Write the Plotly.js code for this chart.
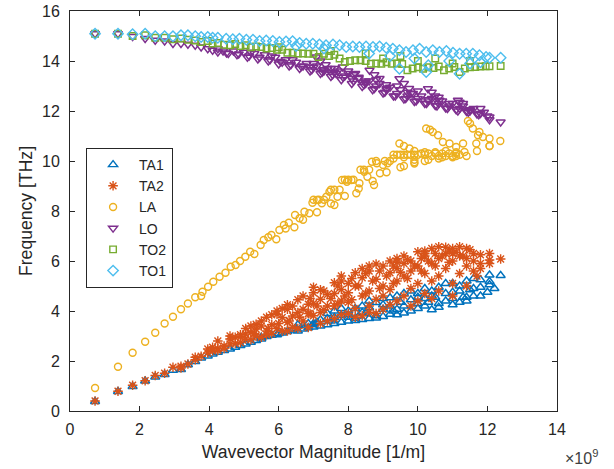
<!DOCTYPE html>
<html>
<head>
<meta charset="utf-8">
<script src="https://cdn.plot.ly/plotly-3.0.1.min.js"></script>
<style>html,body{margin:0;padding:0;background:#fff;}#chart{width:614px;height:469px;}</style>
</head>
<body>
<div id="chart"></div>
<script>
// Wavevector magnitude in units of 1e9 1/m, frequency in THz
const ta1K = [0.72,1.38,1.8,2.16,2.45,2.72,2.96,3.19,3.39,3.6,3.77,3.96,4.1,4.25,4.43,4.6,4.75,4.9,5.05,5.2,5.35,5.5,5.65,5.8,5.95,6.1,6.25,6.4,6.55,6.55,6.7,6.7,6.85,6.85,7.0,7.0,7.2,7.2,7.4,7.4,7.4,7.6,7.6,7.6,7.8,7.8,7.8,8.0,8.0,8.0,8.2,8.2,8.2,8.4,8.4,8.4,8.6,8.6,8.6,8.8,8.8,8.8,9.0,9.0,9.0,9.2,9.2,9.2,9.4,9.4,9.4,9.6,9.6,9.6,9.8,9.8,9.8,10.0,10.0,10.0,10.2,10.2,10.2,10.4,10.4,10.4,10.6,10.6,10.6,10.8,10.8,10.8,11.0,11.0,11.0,11.2,11.2,11.2,11.4,11.4,11.4,11.6,11.6,11.6,11.8,11.8,11.8,12.06,12.06,12.06,12.38,
  5.5,6.0,6.5,7.0,7.5,8.0,8.5,9.0,9.5,10.0,10.5,11.0,11.5,12.0,7.1,8.3,9.3,10.3,11.3,12.2];
const ta1F = [0.38,0.78,0.98,1.2,1.36,1.46,1.63,1.66,1.85,1.98,2.12,2.2,2.28,2.35,2.42,2.48,2.55,2.62,2.68,2.75,2.82,2.88,2.98,3.03,3.05,3.12,3.18,3.24,3.2,3.45,3.42,3.28,3.5,3.33,3.5,3.36,3.65,3.4,3.7,3.45,3.9,3.74,3.5,4.0,3.83,3.55,4.1,4.0,3.6,3.75,3.7,4.1,3.62,3.94,4.2,3.66,4.14,3.7,4.4,4.34,3.81,3.72,4.07,4.5,3.78,4.53,3.87,4.2,4.07,4.6,3.85,4.7,4.2,3.92,4.45,4.0,4.8,4.7,4.1,4.3,4.9,4.2,4.5,4.6,4.05,4.8,4.95,4.3,4.15,5.1,4.4,4.7,5.1,4.5,4.25,4.8,4.35,5.0,5.2,4.55,4.4,4.9,4.6,5.3,5.25,4.6,4.95,5.44,5.18,5.05,5.42,
  2.95,3.1,3.3,3.45,3.6,3.85,3.9,4.25,4.35,4.55,4.55,4.75,4.85,4.75,3.55,3.8,4.0,4.35,4.55,4.9];

const ta2K = [0.72,1.38,1.8,2.16,2.45,2.72,2.96,3.19,3.19,3.39,3.6,3.6,3.77,3.96,3.96,4.1,4.1,4.25,4.25,4.25,4.43,4.43,4.6,4.6,4.6,4.75,4.75,4.9,4.9,4.9,5.05,5.05,5.05,5.2,5.2,5.2,5.35,5.35,5.35,5.5,5.5,5.5,5.65,5.65,5.65,5.8,5.8,5.8,5.95,5.95,5.95,6.1,6.1,6.1,6.25,6.25,6.25,6.25,6.4,6.4,6.4,6.55,6.55,6.55,6.7,6.7,6.7,6.85,6.85,6.85,7.0,7.0,7.0,7.2,7.2,7.2,7.2,7.4,7.4,7.4,7.6,7.6,7.6,7.6,7.8,7.8,7.8,7.8,8.0,8.0,8.0,8.0,8.2,8.2,8.2,8.2,8.4,8.4,8.4,8.4,8.6,8.6,8.6,8.6,8.8,8.8,8.8,8.8,9.0,9.0,9.0,9.0,9.2,9.2,9.2,9.2,9.4,9.4,9.4,9.4,9.6,9.6,9.6,9.6,9.8,9.8,9.8,9.8,10.0,10.0,10.0,10.0,10.2,10.2,10.2,10.2,10.4,10.4,10.4,10.4,10.6,10.6,10.6,10.6,10.8,10.8,10.8,11.0,11.0,11.0,11.0,11.2,11.2,11.2,11.4,11.4,11.4,11.4,11.6,11.6,11.6,11.8,11.8,11.8,12.06,12.06,12.06,12.38,
  5.3,5.7,6.0,6.3,6.6,6.9,7.3,7.7,8.1,8.5,8.9,9.3,9.7,10.1,10.5,10.9,11.3,11.7,6.9,7.3,7.7,8.1,8.5,8.9,9.3,9.7,10.1,10.5,10.9,
  7.1,7.5,7.9,8.3,8.7,9.1,9.5,9.9,10.3,10.7,11.1,11.5,7.0,7.8,8.6,9.4,10.2,11.0];
const ta2F = [0.4,0.79,1.03,1.21,1.42,1.51,1.75,1.79,1.72,1.88,2.15,2.05,2.19,2.32,2.48,2.41,2.55,2.5,2.8,2.42,2.6,2.5,2.68,2.88,3.0,2.95,2.7,2.74,2.97,3.05,3.08,2.88,3.3,3.14,2.85,3.4,3.47,3.28,3.0,2.95,3.4,3.6,3.2,3.75,3.05,3.45,3.85,3.1,3.87,3.3,4.0,3.74,3.2,4.1,3.2,4.07,3.55,4.25,4.2,3.35,3.8,3.94,4.45,3.3,4.07,3.6,4.6,3.34,4.27,3.9,4.73,3.81,4.3,3.94,4.47,3.5,4.85,3.6,4.66,4.2,5.13,4.2,3.7,4.7,4.4,4.86,3.85,5.2,4.73,3.9,5.1,4.35,5.53,5.0,4.1,3.75,5.33,3.81,4.6,5.7,4.8,5.8,4.2,3.95,5.27,4.47,5.88,3.9,5.8,4.07,5.0,4.6,5.53,4.86,6.0,4.25,6.1,5.2,4.4,5.7,5.9,4.6,6.2,5.4,6.0,4.9,5.6,4.2,6.37,5.8,5.1,4.4,6.2,5.5,4.7,6.4,6.5,5.9,5.2,4.5,6.57,6.1,5.4,4.8,6.3,6.55,5.7,6.5,6.0,4.6,5.1,6.57,6.2,5.5,6.5,6.1,5.8,5.0,6.3,6.0,5.6,6.25,5.9,5.7,6.04,6.3,5.9,6.08,
  3.1,3.3,3.5,3.6,3.75,3.9,4.05,4.3,4.45,4.7,4.9,5.1,5.3,5.6,5.8,5.95,6.2,5.4,4.5,4.8,5.0,5.3,5.5,5.6,5.8,6.05,6.1,6.3,6.4,
  4.2,4.5,4.6,5.0,5.2,5.4,5.55,5.8,6.0,6.2,6.35,6.45,4.95,5.4,5.6,5.95,6.3,6.3];

const laK = [0.72,1.38,1.8,2.16,2.45,2.72,2.96,3.19,3.39,3.6,3.77,3.81,3.97,4.12,4.3,4.47,4.62,4.76,4.89,5.04,5.18,5.3,5.48,5.57,5.7,5.79,5.93,6.02,6.15,6.29,6.45,6.47,6.6,6.74,6.88,6.97,7.1,7.24,7.37,7.46,7.6,7.69,7.82,7.96,8.09,8.23,8.32,8.46,8.55,8.68,8.82,8.91,9.0,9.13,8.74,7.0,7.15,7.3,7.5,7.6,7.75,7.9,8.0,8.15,8.35,8.45,8.6,8.8,9.05,9.2,9.3,9.4,9.5,9.6,9.7,9.8,9.9,10.0,10.1,10.2,10.3,10.4,10.5,10.6,10.7,10.8,10.9,11.0,11.1,11.2,9.6,9.9,10.2,10.6,11.0,11.4,11.7,12.06,9.47,9.6,9.76,9.9,10.24,10.35,10.43,10.58,10.72,10.91,11.1,11.3,11.34,11.68,11.73,11.58,11.44,11.5,11.77,11.87,12.06,12.06,12.37,
  6.2,6.7,7.1,7.5,7.9,8.3,8.7,9.1,9.5,9.9,10.3,10.7,11.1,9.3,9.6,9.9,10.2,10.5,10.8,11.1];
const laF = [0.92,1.77,2.33,2.77,3.13,3.5,3.77,4.07,4.3,4.55,4.6,4.77,4.97,5.17,5.37,5.53,5.77,5.84,6.0,6.17,6.37,6.28,6.64,6.84,6.95,7.04,6.87,7.24,7.44,7.53,7.35,7.84,7.71,7.97,7.91,8.33,8.44,8.31,8.57,8.77,8.24,8.57,9.24,9.17,9.24,8.71,9.11,9.57,9.37,9.97,9.91,9.51,9.84,9.91,9.04,8.45,8.45,8.45,8.85,8.85,8.85,9.25,9.25,9.25,9.65,9.65,9.65,10.0,10.0,10.0,10.25,10.25,10.25,10.25,10.25,10.25,10.25,10.25,10.3,10.25,10.3,10.2,10.3,10.2,10.3,10.2,10.3,10.2,10.3,10.25,9.8,9.9,10.0,10.1,10.15,10.2,10.4,10.6,10.7,10.6,10.5,10.4,11.3,11.25,11.16,11.03,10.76,10.7,10.56,10.7,10.36,10.7,11.03,11.3,11.6,11.5,11.16,10.96,10.9,10.6,10.8,
  7.3,7.65,7.95,8.3,8.6,8.9,9.2,9.55,9.75,9.95,10.05,10.15,10.2,10.1,10.15,10.05,10.35,10.35,10.4,10.35];

const loK = [0.72,1.38,1.8,2.16,2.45,2.72,2.96,3.19,3.39,3.6,3.77,3.96,4.1,4.25,4.25,4.4,4.55,4.7,4.85,5.0,5.15,5.3,5.45,5.6,5.75,5.9,6.05,6.2,6.35,6.5,6.65,6.8,6.95,7.1,7.25,7.4,7.55,7.7,7.85,8.0,8.15,8.3,8.45,8.6,8.75,8.9,9.05,9.2,9.35,9.5,9.65,9.8,9.95,10.1,10.25,10.4,10.55,10.7,10.85,11.0,11.15,11.3,11.45,11.6,11.75,11.9,12.06,12.06,12.38,7.0,7.3,7.6,8.1,8.5,8.8,9.1,9.4,9.7,10.0,10.3,10.6,10.9,11.2,11.5,11.8,7.08,7.2,7.35,7.5,7.65,7.84,8.0,8.15,8.3,8.5,8.61,8.75,8.9,9.09,9.47,9.6,9.75,9.86,10.29,10.4,10.5,10.62,11.15,11.3,11.49,
  4.5,4.8,5.1,5.4,5.7,6.0,6.3,6.6,6.9,7.2,7.5,7.8,8.1,8.4,8.7,9.0,9.3,9.6,9.9,10.2,10.5,10.8,11.1,11.4,11.7,12.0,5.2,5.8,6.4,7.0,7.6,8.2,8.8,9.4,10.0,10.6,11.2,11.8,
  6.1,6.7,7.3,7.9,8.5,9.1,9.7,10.3,10.9,11.5];
const loF = [15.09,15.09,14.98,14.9,14.83,14.8,14.7,14.7,14.67,14.63,14.56,14.49,14.43,14.49,14.36,14.4,14.3,14.4,14.28,14.35,14.2,14.3,14.15,14.25,14.05,14.15,13.98,14.05,13.85,13.95,13.78,13.9,13.65,13.8,13.55,13.7,13.45,13.6,13.35,13.5,13.2,13.35,13.05,13.2,12.9,13.1,12.75,12.95,12.6,12.85,12.5,12.7,12.4,12.6,12.3,12.5,12.2,12.4,12.1,12.3,12.0,12.2,11.95,12.1,11.85,11.95,11.76,11.65,11.56,13.75,13.6,13.55,13.3,13.15,13.0,12.85,12.7,12.6,12.5,12.4,12.3,12.2,12.1,12.0,11.9,14.16,14.0,13.85,13.7,13.5,13.76,13.6,13.45,13.3,13.1,13.63,13.45,13.3,13.05,13.29,13.1,12.9,12.7,12.89,12.75,12.6,12.43,12.43,12.3,12.03,
  14.32,14.25,14.15,14.08,14.0,13.88,13.8,13.7,13.6,13.5,13.38,13.25,13.1,12.98,12.85,12.72,12.6,12.48,12.38,12.3,12.22,12.12,12.05,11.98,11.88,11.8,14.35,14.2,14.05,13.9,13.7,13.5,13.25,13.0,12.8,12.55,12.35,12.1,
  13.95,13.8,13.65,13.4,13.2,12.9,12.75,12.45,12.3,12.05];

const to2K = [0.72,1.38,1.8,2.16,2.45,2.72,2.96,3.19,3.39,3.6,3.77,3.96,4.1,4.25,4.43,4.6,4.75,4.9,5.05,5.2,5.35,5.5,5.65,5.8,5.95,6.1,6.25,6.4,6.55,6.7,6.85,7.0,7.15,7.3,7.45,7.6,7.75,7.9,8.05,8.2,8.35,8.5,8.65,8.8,8.95,9.1,9.25,9.4,9.55,9.7,9.85,10.0,10.15,10.3,10.45,10.6,10.75,10.9,11.05,11.2,11.35,11.5,11.65,11.8,11.95,12.06,12.38,7.5,8.5,9.5,10.5,11.5,6.0,9.0,10.0,11.0];
const to2F = [15.09,15.09,15.0,15.03,14.93,14.93,14.87,14.9,14.85,14.82,14.76,14.8,14.7,14.72,14.65,14.63,14.68,14.6,14.63,14.55,14.58,14.56,14.5,14.52,14.45,14.45,14.33,14.33,14.3,14.3,14.29,14.29,14.16,14.29,14.2,14.25,14.1,13.96,14.0,14.03,14.03,14.0,13.89,13.9,13.89,13.95,13.89,13.9,13.88,13.63,13.7,13.75,13.69,13.75,13.72,13.78,13.63,13.7,13.76,13.56,13.7,13.75,13.76,13.78,13.79,13.79,13.8,14.4,14.3,14.2,14.1,14.0,14.55,14.1,14.0,13.9];

const to1K = [0.72,1.38,1.8,2.16,2.45,2.72,2.96,3.19,3.39,3.6,3.77,3.96,4.1,4.25,4.49,4.68,4.87,5.07,5.26,5.45,5.64,5.83,6.02,6.21,6.4,6.6,6.79,6.98,7.17,7.36,7.56,7.75,7.94,8.13,8.32,8.51,8.71,8.9,9.09,9.28,9.47,9.66,9.86,10.05,10.24,10.43,10.62,10.82,11.01,11.2,11.39,11.58,11.77,11.96,12.06,12.38,9.47,10.24,11.2,10.3,9.9,10.9,11.5,8.6,9.2,7.3,6.5,11.8];
const to1F = [15.09,15.09,15.07,15.09,14.99,14.99,14.99,15.03,15.03,14.99,14.96,14.96,14.93,14.93,14.89,14.87,14.89,14.85,14.85,14.8,14.82,14.8,14.76,14.78,14.79,14.72,14.69,14.69,14.66,14.63,14.66,14.63,14.56,14.58,14.56,14.58,14.56,14.58,14.53,14.49,14.43,14.36,14.43,14.49,14.36,14.43,14.36,14.4,14.33,14.29,14.29,14.29,14.23,14.16,14.13,14.13,13.69,13.56,13.49,13.83,14.1,14.0,13.9,14.3,14.2,14.5,14.6,13.95];

const seriesNames = ['TA1','TA2','LA','LO','TO2','TO1'];
const seriesColors = ['#0072BD','#D95319','#EDB120','#7E2F8E','#77AC30','#4DBEEE'];
const seriesSymbols = ['triangle-up-open','asterisk-open','circle-open','triangle-down-open','square-open','diamond-open'];
const seriesSizes = [8,8,7,8,6.5,8];
const xTickVals = [0,2,4,6,8,10,12,14];
const yTickVals = [0,2,4,6,8,10,12,14,16];

const kData = [ta1K, ta2K, laK, loK, to2K, to1K];
const fData = [ta1F, ta2F, laF, loF, to2F, to1F];

const SCALE = 1e9;
const traces = seriesNames.map((name, i) => ({
  type: 'scatter',
  mode: 'markers',
  name: name,
  x: kData[i].map(v => v * SCALE),
  y: fData[i],
  marker: {
    symbol: seriesSymbols[i],
    size: seriesSizes[i],
    color: seriesColors[i],
    line: {color: seriesColors[i], width: 1.4}
  }
}));

const axisCommon = {
  showline: true, linecolor: '#262626', linewidth: 1,
  mirror: 'ticks', ticks: 'inside', ticklen: 5, tickwidth: 1, tickcolor: '#262626',
  showgrid: false, zeroline: false,
  tickfont: {family: 'Liberation Sans, Arial, sans-serif', size: 16, color: '#262626'}
};

const layout = {
  width: 614, height: 469,
  margin: {l: 70, r: 57, t: 11, b: 58},
  paper_bgcolor: '#ffffff', plot_bgcolor: '#ffffff',
  font: {family: 'Liberation Sans, Arial, sans-serif', color: '#262626'},
  showlegend: true,
  xaxis: Object.assign({}, axisCommon, {
    range: [0, 14 * SCALE],
    tickvals: xTickVals.map(v => v * SCALE),
    ticktext: xTickVals.map(v => String(v)),
    ticklabelstandoff: 4,
    title: {text: 'Wavevector Magnitude [1/m]', font: {size: 17.6, color: '#262626'}, standoff: 8}
  }),
  yaxis: Object.assign({}, axisCommon, {
    range: [0, 16],
    tickvals: yTickVals,
    ticktext: yTickVals.map(v => String(v)),
    ticklabelstandoff: 6,
    title: {text: 'Frequency [THz]', font: {size: 17.6, color: '#262626'}, standoff: 4}
  }),
  legend: {
    x: 0.033, y: 0.6575, xanchor: 'left', yanchor: 'top',
    bgcolor: '#ffffff', bordercolor: '#262626', borderwidth: 1,
    font: {size: 14, color: '#262626'},
    itemwidth: 42, tracegroupgap: 0
  },
  annotations: [{
    xref: 'paper', yref: 'paper', x: 1.012, y: -0.115,
    xanchor: 'left', yanchor: 'middle', showarrow: false,
    text: '×10<sup>9</sup>',
    font: {size: 16, color: '#404040'}
  }]
};

Plotly.newPlot('chart', traces, layout, {displayModeBar: false, staticPlot: true});
</script>
</body>
</html>
